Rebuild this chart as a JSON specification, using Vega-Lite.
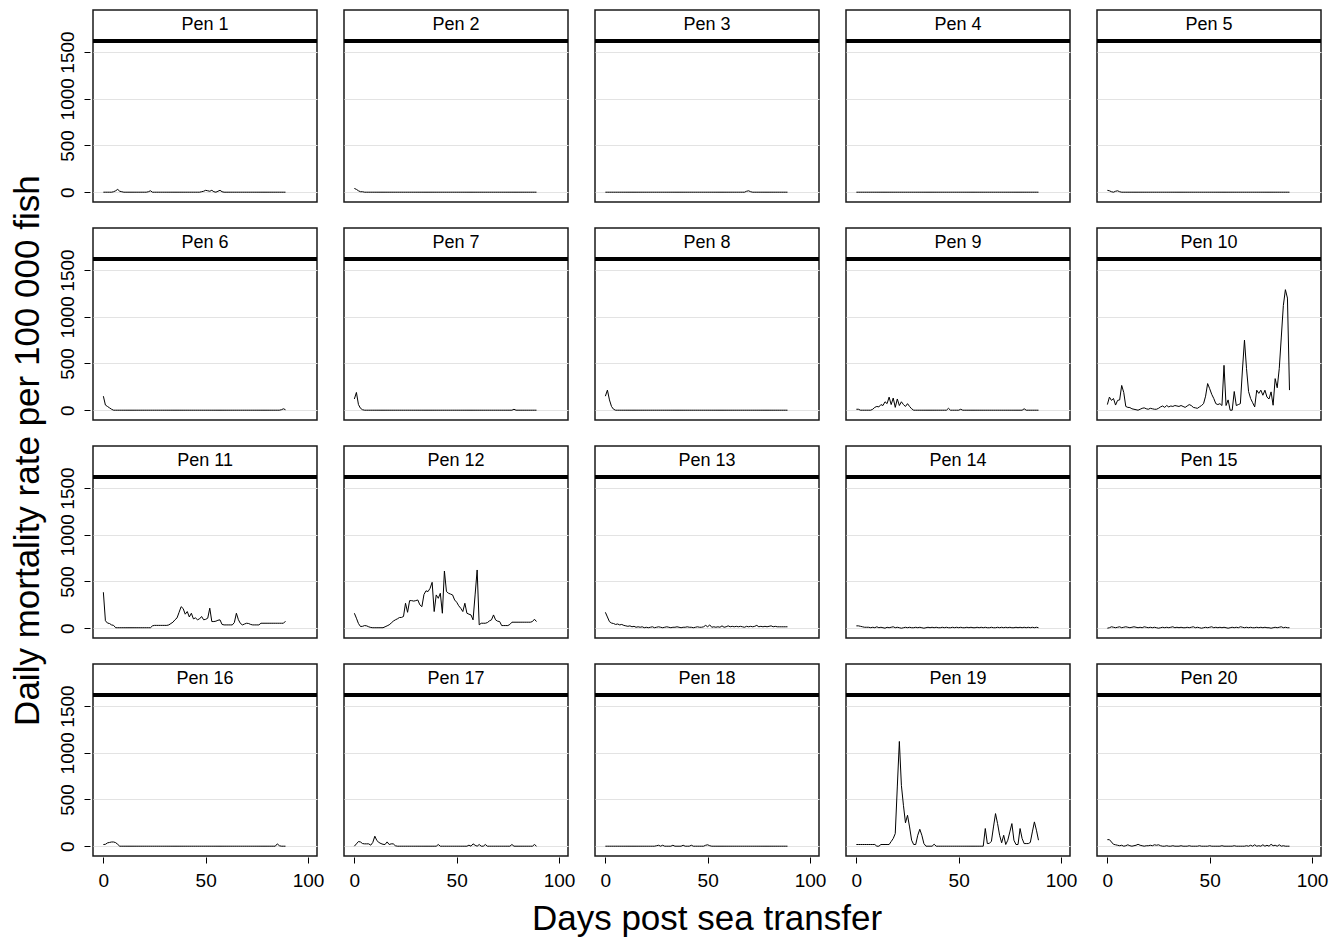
{
"$schema": "https://vega.github.io/schema/vega-lite/v6.json",
"padding": {"left": 10, "top": 8, "right": 5, "bottom": 0},
"background": "white",
"title": {"text": "Daily mortality rate per 100 000 fish", "orient": "left", "anchor": "middle", "font": "Liberation Sans", "fontSize": 35, "fontWeight": "normal", "color": "black", "offset": 12, "dx": 22},
"data": {"values": [
{"p":"Pen 1","d":0,"r":0},{"p":"Pen 1","d":1,"r":0},{"p":"Pen 1","d":2,"r":0},{"p":"Pen 1","d":3,"r":0},{"p":"Pen 1","d":4,"r":0},{"p":"Pen 1","d":5,"r":5},{"p":"Pen 1","d":6,"r":15},{"p":"Pen 1","d":7,"r":30},{"p":"Pen 1","d":8,"r":10},{"p":"Pen 1","d":9,"r":5},{"p":"Pen 1","d":10,"r":0},{"p":"Pen 1","d":11,"r":0},{"p":"Pen 1","d":12,"r":0},{"p":"Pen 1","d":13,"r":0},{"p":"Pen 1","d":14,"r":0},{"p":"Pen 1","d":15,"r":0},{"p":"Pen 1","d":16,"r":0},{"p":"Pen 1","d":17,"r":0},{"p":"Pen 1","d":18,"r":0},{"p":"Pen 1","d":19,"r":0},{"p":"Pen 1","d":20,"r":0},{"p":"Pen 1","d":21,"r":0},{"p":"Pen 1","d":22,"r":5},{"p":"Pen 1","d":23,"r":15},{"p":"Pen 1","d":24,"r":0},{"p":"Pen 1","d":25,"r":0},{"p":"Pen 1","d":26,"r":0},{"p":"Pen 1","d":27,"r":0},{"p":"Pen 1","d":28,"r":0},{"p":"Pen 1","d":29,"r":0},{"p":"Pen 1","d":30,"r":0},{"p":"Pen 1","d":31,"r":0},{"p":"Pen 1","d":32,"r":0},{"p":"Pen 1","d":33,"r":0},{"p":"Pen 1","d":34,"r":0},{"p":"Pen 1","d":35,"r":0},{"p":"Pen 1","d":36,"r":0},{"p":"Pen 1","d":37,"r":0},{"p":"Pen 1","d":38,"r":0},{"p":"Pen 1","d":39,"r":0},{"p":"Pen 1","d":40,"r":0},{"p":"Pen 1","d":41,"r":0},{"p":"Pen 1","d":42,"r":0},{"p":"Pen 1","d":43,"r":0},{"p":"Pen 1","d":44,"r":0},{"p":"Pen 1","d":45,"r":0},{"p":"Pen 1","d":46,"r":0},{"p":"Pen 1","d":47,"r":0},{"p":"Pen 1","d":48,"r":5},{"p":"Pen 1","d":49,"r":10},{"p":"Pen 1","d":50,"r":20},{"p":"Pen 1","d":51,"r":15},{"p":"Pen 1","d":52,"r":10},{"p":"Pen 1","d":53,"r":20},{"p":"Pen 1","d":54,"r":5},{"p":"Pen 1","d":55,"r":0},{"p":"Pen 1","d":56,"r":10},{"p":"Pen 1","d":57,"r":20},{"p":"Pen 1","d":58,"r":5},{"p":"Pen 1","d":59,"r":0},{"p":"Pen 1","d":60,"r":0},{"p":"Pen 1","d":61,"r":0},{"p":"Pen 1","d":62,"r":0},{"p":"Pen 1","d":63,"r":0},{"p":"Pen 1","d":64,"r":0},{"p":"Pen 1","d":65,"r":0},{"p":"Pen 1","d":66,"r":0},{"p":"Pen 1","d":67,"r":0},{"p":"Pen 1","d":68,"r":0},{"p":"Pen 1","d":69,"r":0},{"p":"Pen 1","d":70,"r":0},{"p":"Pen 1","d":71,"r":0},{"p":"Pen 1","d":72,"r":0},{"p":"Pen 1","d":73,"r":0},{"p":"Pen 1","d":74,"r":0},{"p":"Pen 1","d":75,"r":0},{"p":"Pen 1","d":76,"r":0},{"p":"Pen 1","d":77,"r":0},{"p":"Pen 1","d":78,"r":0},{"p":"Pen 1","d":79,"r":0},{"p":"Pen 1","d":80,"r":0},{"p":"Pen 1","d":81,"r":0},{"p":"Pen 1","d":82,"r":0},{"p":"Pen 1","d":83,"r":0},{"p":"Pen 1","d":84,"r":0},{"p":"Pen 1","d":85,"r":0},{"p":"Pen 1","d":86,"r":0},{"p":"Pen 1","d":87,"r":0},{"p":"Pen 1","d":88,"r":0},{"p":"Pen 1","d":89,"r":0},
{"p":"Pen 2","d":0,"r":40},{"p":"Pen 2","d":1,"r":30},{"p":"Pen 2","d":2,"r":15},{"p":"Pen 2","d":3,"r":5},{"p":"Pen 2","d":4,"r":5},{"p":"Pen 2","d":5,"r":0},{"p":"Pen 2","d":6,"r":0},{"p":"Pen 2","d":7,"r":0},{"p":"Pen 2","d":8,"r":0},{"p":"Pen 2","d":9,"r":0},{"p":"Pen 2","d":10,"r":0},{"p":"Pen 2","d":11,"r":0},{"p":"Pen 2","d":12,"r":0},{"p":"Pen 2","d":13,"r":0},{"p":"Pen 2","d":14,"r":0},{"p":"Pen 2","d":15,"r":0},{"p":"Pen 2","d":16,"r":0},{"p":"Pen 2","d":17,"r":0},{"p":"Pen 2","d":18,"r":0},{"p":"Pen 2","d":19,"r":0},{"p":"Pen 2","d":20,"r":0},{"p":"Pen 2","d":21,"r":0},{"p":"Pen 2","d":22,"r":0},{"p":"Pen 2","d":23,"r":0},{"p":"Pen 2","d":24,"r":0},{"p":"Pen 2","d":25,"r":0},{"p":"Pen 2","d":26,"r":0},{"p":"Pen 2","d":27,"r":0},{"p":"Pen 2","d":28,"r":0},{"p":"Pen 2","d":29,"r":0},{"p":"Pen 2","d":30,"r":0},{"p":"Pen 2","d":31,"r":0},{"p":"Pen 2","d":32,"r":0},{"p":"Pen 2","d":33,"r":0},{"p":"Pen 2","d":34,"r":0},{"p":"Pen 2","d":35,"r":0},{"p":"Pen 2","d":36,"r":0},{"p":"Pen 2","d":37,"r":0},{"p":"Pen 2","d":38,"r":0},{"p":"Pen 2","d":39,"r":0},{"p":"Pen 2","d":40,"r":0},{"p":"Pen 2","d":41,"r":0},{"p":"Pen 2","d":42,"r":0},{"p":"Pen 2","d":43,"r":0},{"p":"Pen 2","d":44,"r":0},{"p":"Pen 2","d":45,"r":0},{"p":"Pen 2","d":46,"r":0},{"p":"Pen 2","d":47,"r":0},{"p":"Pen 2","d":48,"r":0},{"p":"Pen 2","d":49,"r":0},{"p":"Pen 2","d":50,"r":0},{"p":"Pen 2","d":51,"r":0},{"p":"Pen 2","d":52,"r":0},{"p":"Pen 2","d":53,"r":0},{"p":"Pen 2","d":54,"r":0},{"p":"Pen 2","d":55,"r":0},{"p":"Pen 2","d":56,"r":0},{"p":"Pen 2","d":57,"r":0},{"p":"Pen 2","d":58,"r":0},{"p":"Pen 2","d":59,"r":0},{"p":"Pen 2","d":60,"r":0},{"p":"Pen 2","d":61,"r":0},{"p":"Pen 2","d":62,"r":0},{"p":"Pen 2","d":63,"r":0},{"p":"Pen 2","d":64,"r":0},{"p":"Pen 2","d":65,"r":0},{"p":"Pen 2","d":66,"r":0},{"p":"Pen 2","d":67,"r":0},{"p":"Pen 2","d":68,"r":0},{"p":"Pen 2","d":69,"r":0},{"p":"Pen 2","d":70,"r":0},{"p":"Pen 2","d":71,"r":0},{"p":"Pen 2","d":72,"r":0},{"p":"Pen 2","d":73,"r":0},{"p":"Pen 2","d":74,"r":0},{"p":"Pen 2","d":75,"r":0},{"p":"Pen 2","d":76,"r":0},{"p":"Pen 2","d":77,"r":0},{"p":"Pen 2","d":78,"r":0},{"p":"Pen 2","d":79,"r":0},{"p":"Pen 2","d":80,"r":0},{"p":"Pen 2","d":81,"r":0},{"p":"Pen 2","d":82,"r":0},{"p":"Pen 2","d":83,"r":0},{"p":"Pen 2","d":84,"r":0},{"p":"Pen 2","d":85,"r":0},{"p":"Pen 2","d":86,"r":0},{"p":"Pen 2","d":87,"r":0},{"p":"Pen 2","d":88,"r":0},{"p":"Pen 2","d":89,"r":0},
{"p":"Pen 3","d":0,"r":0},{"p":"Pen 3","d":1,"r":0},{"p":"Pen 3","d":2,"r":0},{"p":"Pen 3","d":3,"r":0},{"p":"Pen 3","d":4,"r":0},{"p":"Pen 3","d":5,"r":0},{"p":"Pen 3","d":6,"r":0},{"p":"Pen 3","d":7,"r":0},{"p":"Pen 3","d":8,"r":0},{"p":"Pen 3","d":9,"r":0},{"p":"Pen 3","d":10,"r":0},{"p":"Pen 3","d":11,"r":0},{"p":"Pen 3","d":12,"r":0},{"p":"Pen 3","d":13,"r":0},{"p":"Pen 3","d":14,"r":0},{"p":"Pen 3","d":15,"r":0},{"p":"Pen 3","d":16,"r":0},{"p":"Pen 3","d":17,"r":0},{"p":"Pen 3","d":18,"r":0},{"p":"Pen 3","d":19,"r":0},{"p":"Pen 3","d":20,"r":0},{"p":"Pen 3","d":21,"r":0},{"p":"Pen 3","d":22,"r":0},{"p":"Pen 3","d":23,"r":0},{"p":"Pen 3","d":24,"r":0},{"p":"Pen 3","d":25,"r":0},{"p":"Pen 3","d":26,"r":0},{"p":"Pen 3","d":27,"r":0},{"p":"Pen 3","d":28,"r":0},{"p":"Pen 3","d":29,"r":0},{"p":"Pen 3","d":30,"r":0},{"p":"Pen 3","d":31,"r":0},{"p":"Pen 3","d":32,"r":0},{"p":"Pen 3","d":33,"r":0},{"p":"Pen 3","d":34,"r":0},{"p":"Pen 3","d":35,"r":0},{"p":"Pen 3","d":36,"r":0},{"p":"Pen 3","d":37,"r":0},{"p":"Pen 3","d":38,"r":0},{"p":"Pen 3","d":39,"r":0},{"p":"Pen 3","d":40,"r":0},{"p":"Pen 3","d":41,"r":0},{"p":"Pen 3","d":42,"r":0},{"p":"Pen 3","d":43,"r":0},{"p":"Pen 3","d":44,"r":0},{"p":"Pen 3","d":45,"r":0},{"p":"Pen 3","d":46,"r":0},{"p":"Pen 3","d":47,"r":0},{"p":"Pen 3","d":48,"r":0},{"p":"Pen 3","d":49,"r":0},{"p":"Pen 3","d":50,"r":0},{"p":"Pen 3","d":51,"r":0},{"p":"Pen 3","d":52,"r":0},{"p":"Pen 3","d":53,"r":0},{"p":"Pen 3","d":54,"r":0},{"p":"Pen 3","d":55,"r":0},{"p":"Pen 3","d":56,"r":0},{"p":"Pen 3","d":57,"r":0},{"p":"Pen 3","d":58,"r":0},{"p":"Pen 3","d":59,"r":0},{"p":"Pen 3","d":60,"r":0},{"p":"Pen 3","d":61,"r":0},{"p":"Pen 3","d":62,"r":0},{"p":"Pen 3","d":63,"r":0},{"p":"Pen 3","d":64,"r":0},{"p":"Pen 3","d":65,"r":0},{"p":"Pen 3","d":66,"r":0},{"p":"Pen 3","d":67,"r":0},{"p":"Pen 3","d":68,"r":0},{"p":"Pen 3","d":69,"r":10},{"p":"Pen 3","d":70,"r":15},{"p":"Pen 3","d":71,"r":5},{"p":"Pen 3","d":72,"r":0},{"p":"Pen 3","d":73,"r":0},{"p":"Pen 3","d":74,"r":0},{"p":"Pen 3","d":75,"r":0},{"p":"Pen 3","d":76,"r":0},{"p":"Pen 3","d":77,"r":0},{"p":"Pen 3","d":78,"r":0},{"p":"Pen 3","d":79,"r":0},{"p":"Pen 3","d":80,"r":0},{"p":"Pen 3","d":81,"r":0},{"p":"Pen 3","d":82,"r":0},{"p":"Pen 3","d":83,"r":0},{"p":"Pen 3","d":84,"r":0},{"p":"Pen 3","d":85,"r":0},{"p":"Pen 3","d":86,"r":0},{"p":"Pen 3","d":87,"r":0},{"p":"Pen 3","d":88,"r":0},{"p":"Pen 3","d":89,"r":0},
{"p":"Pen 4","d":0,"r":0},{"p":"Pen 4","d":1,"r":0},{"p":"Pen 4","d":2,"r":0},{"p":"Pen 4","d":3,"r":0},{"p":"Pen 4","d":4,"r":0},{"p":"Pen 4","d":5,"r":0},{"p":"Pen 4","d":6,"r":0},{"p":"Pen 4","d":7,"r":0},{"p":"Pen 4","d":8,"r":0},{"p":"Pen 4","d":9,"r":0},{"p":"Pen 4","d":10,"r":0},{"p":"Pen 4","d":11,"r":0},{"p":"Pen 4","d":12,"r":0},{"p":"Pen 4","d":13,"r":0},{"p":"Pen 4","d":14,"r":0},{"p":"Pen 4","d":15,"r":0},{"p":"Pen 4","d":16,"r":0},{"p":"Pen 4","d":17,"r":0},{"p":"Pen 4","d":18,"r":0},{"p":"Pen 4","d":19,"r":0},{"p":"Pen 4","d":20,"r":0},{"p":"Pen 4","d":21,"r":0},{"p":"Pen 4","d":22,"r":0},{"p":"Pen 4","d":23,"r":0},{"p":"Pen 4","d":24,"r":0},{"p":"Pen 4","d":25,"r":0},{"p":"Pen 4","d":26,"r":0},{"p":"Pen 4","d":27,"r":0},{"p":"Pen 4","d":28,"r":0},{"p":"Pen 4","d":29,"r":0},{"p":"Pen 4","d":30,"r":0},{"p":"Pen 4","d":31,"r":0},{"p":"Pen 4","d":32,"r":0},{"p":"Pen 4","d":33,"r":0},{"p":"Pen 4","d":34,"r":0},{"p":"Pen 4","d":35,"r":0},{"p":"Pen 4","d":36,"r":0},{"p":"Pen 4","d":37,"r":0},{"p":"Pen 4","d":38,"r":0},{"p":"Pen 4","d":39,"r":0},{"p":"Pen 4","d":40,"r":0},{"p":"Pen 4","d":41,"r":0},{"p":"Pen 4","d":42,"r":0},{"p":"Pen 4","d":43,"r":0},{"p":"Pen 4","d":44,"r":0},{"p":"Pen 4","d":45,"r":0},{"p":"Pen 4","d":46,"r":0},{"p":"Pen 4","d":47,"r":0},{"p":"Pen 4","d":48,"r":0},{"p":"Pen 4","d":49,"r":0},{"p":"Pen 4","d":50,"r":0},{"p":"Pen 4","d":51,"r":0},{"p":"Pen 4","d":52,"r":0},{"p":"Pen 4","d":53,"r":0},{"p":"Pen 4","d":54,"r":0},{"p":"Pen 4","d":55,"r":0},{"p":"Pen 4","d":56,"r":0},{"p":"Pen 4","d":57,"r":0},{"p":"Pen 4","d":58,"r":0},{"p":"Pen 4","d":59,"r":0},{"p":"Pen 4","d":60,"r":0},{"p":"Pen 4","d":61,"r":0},{"p":"Pen 4","d":62,"r":0},{"p":"Pen 4","d":63,"r":0},{"p":"Pen 4","d":64,"r":0},{"p":"Pen 4","d":65,"r":0},{"p":"Pen 4","d":66,"r":0},{"p":"Pen 4","d":67,"r":0},{"p":"Pen 4","d":68,"r":0},{"p":"Pen 4","d":69,"r":0},{"p":"Pen 4","d":70,"r":0},{"p":"Pen 4","d":71,"r":0},{"p":"Pen 4","d":72,"r":0},{"p":"Pen 4","d":73,"r":0},{"p":"Pen 4","d":74,"r":0},{"p":"Pen 4","d":75,"r":0},{"p":"Pen 4","d":76,"r":0},{"p":"Pen 4","d":77,"r":0},{"p":"Pen 4","d":78,"r":0},{"p":"Pen 4","d":79,"r":0},{"p":"Pen 4","d":80,"r":0},{"p":"Pen 4","d":81,"r":0},{"p":"Pen 4","d":82,"r":0},{"p":"Pen 4","d":83,"r":0},{"p":"Pen 4","d":84,"r":0},{"p":"Pen 4","d":85,"r":0},{"p":"Pen 4","d":86,"r":0},{"p":"Pen 4","d":87,"r":0},{"p":"Pen 4","d":88,"r":0},{"p":"Pen 4","d":89,"r":0},
{"p":"Pen 5","d":0,"r":20},{"p":"Pen 5","d":1,"r":15},{"p":"Pen 5","d":2,"r":5},{"p":"Pen 5","d":3,"r":0},{"p":"Pen 5","d":4,"r":10},{"p":"Pen 5","d":5,"r":15},{"p":"Pen 5","d":6,"r":5},{"p":"Pen 5","d":7,"r":0},{"p":"Pen 5","d":8,"r":0},{"p":"Pen 5","d":9,"r":0},{"p":"Pen 5","d":10,"r":0},{"p":"Pen 5","d":11,"r":0},{"p":"Pen 5","d":12,"r":0},{"p":"Pen 5","d":13,"r":0},{"p":"Pen 5","d":14,"r":0},{"p":"Pen 5","d":15,"r":0},{"p":"Pen 5","d":16,"r":0},{"p":"Pen 5","d":17,"r":0},{"p":"Pen 5","d":18,"r":0},{"p":"Pen 5","d":19,"r":0},{"p":"Pen 5","d":20,"r":0},{"p":"Pen 5","d":21,"r":0},{"p":"Pen 5","d":22,"r":0},{"p":"Pen 5","d":23,"r":0},{"p":"Pen 5","d":24,"r":0},{"p":"Pen 5","d":25,"r":0},{"p":"Pen 5","d":26,"r":0},{"p":"Pen 5","d":27,"r":0},{"p":"Pen 5","d":28,"r":0},{"p":"Pen 5","d":29,"r":0},{"p":"Pen 5","d":30,"r":0},{"p":"Pen 5","d":31,"r":0},{"p":"Pen 5","d":32,"r":0},{"p":"Pen 5","d":33,"r":0},{"p":"Pen 5","d":34,"r":0},{"p":"Pen 5","d":35,"r":0},{"p":"Pen 5","d":36,"r":0},{"p":"Pen 5","d":37,"r":0},{"p":"Pen 5","d":38,"r":0},{"p":"Pen 5","d":39,"r":0},{"p":"Pen 5","d":40,"r":0},{"p":"Pen 5","d":41,"r":0},{"p":"Pen 5","d":42,"r":0},{"p":"Pen 5","d":43,"r":0},{"p":"Pen 5","d":44,"r":0},{"p":"Pen 5","d":45,"r":0},{"p":"Pen 5","d":46,"r":0},{"p":"Pen 5","d":47,"r":0},{"p":"Pen 5","d":48,"r":0},{"p":"Pen 5","d":49,"r":0},{"p":"Pen 5","d":50,"r":0},{"p":"Pen 5","d":51,"r":0},{"p":"Pen 5","d":52,"r":0},{"p":"Pen 5","d":53,"r":0},{"p":"Pen 5","d":54,"r":0},{"p":"Pen 5","d":55,"r":0},{"p":"Pen 5","d":56,"r":0},{"p":"Pen 5","d":57,"r":0},{"p":"Pen 5","d":58,"r":0},{"p":"Pen 5","d":59,"r":0},{"p":"Pen 5","d":60,"r":0},{"p":"Pen 5","d":61,"r":0},{"p":"Pen 5","d":62,"r":0},{"p":"Pen 5","d":63,"r":0},{"p":"Pen 5","d":64,"r":0},{"p":"Pen 5","d":65,"r":0},{"p":"Pen 5","d":66,"r":0},{"p":"Pen 5","d":67,"r":0},{"p":"Pen 5","d":68,"r":0},{"p":"Pen 5","d":69,"r":0},{"p":"Pen 5","d":70,"r":0},{"p":"Pen 5","d":71,"r":0},{"p":"Pen 5","d":72,"r":0},{"p":"Pen 5","d":73,"r":0},{"p":"Pen 5","d":74,"r":0},{"p":"Pen 5","d":75,"r":0},{"p":"Pen 5","d":76,"r":0},{"p":"Pen 5","d":77,"r":0},{"p":"Pen 5","d":78,"r":0},{"p":"Pen 5","d":79,"r":0},{"p":"Pen 5","d":80,"r":0},{"p":"Pen 5","d":81,"r":0},{"p":"Pen 5","d":82,"r":0},{"p":"Pen 5","d":83,"r":0},{"p":"Pen 5","d":84,"r":0},{"p":"Pen 5","d":85,"r":0},{"p":"Pen 5","d":86,"r":0},{"p":"Pen 5","d":87,"r":0},{"p":"Pen 5","d":88,"r":0},{"p":"Pen 5","d":89,"r":0},
{"p":"Pen 6","d":0,"r":150},{"p":"Pen 6","d":1,"r":55},{"p":"Pen 6","d":2,"r":40},{"p":"Pen 6","d":3,"r":25},{"p":"Pen 6","d":4,"r":10},{"p":"Pen 6","d":5,"r":0},{"p":"Pen 6","d":6,"r":0},{"p":"Pen 6","d":7,"r":0},{"p":"Pen 6","d":8,"r":0},{"p":"Pen 6","d":9,"r":0},{"p":"Pen 6","d":10,"r":0},{"p":"Pen 6","d":11,"r":0},{"p":"Pen 6","d":12,"r":0},{"p":"Pen 6","d":13,"r":0},{"p":"Pen 6","d":14,"r":0},{"p":"Pen 6","d":15,"r":0},{"p":"Pen 6","d":16,"r":0},{"p":"Pen 6","d":17,"r":0},{"p":"Pen 6","d":18,"r":0},{"p":"Pen 6","d":19,"r":0},{"p":"Pen 6","d":20,"r":0},{"p":"Pen 6","d":21,"r":0},{"p":"Pen 6","d":22,"r":0},{"p":"Pen 6","d":23,"r":0},{"p":"Pen 6","d":24,"r":0},{"p":"Pen 6","d":25,"r":0},{"p":"Pen 6","d":26,"r":0},{"p":"Pen 6","d":27,"r":0},{"p":"Pen 6","d":28,"r":0},{"p":"Pen 6","d":29,"r":0},{"p":"Pen 6","d":30,"r":0},{"p":"Pen 6","d":31,"r":0},{"p":"Pen 6","d":32,"r":0},{"p":"Pen 6","d":33,"r":0},{"p":"Pen 6","d":34,"r":0},{"p":"Pen 6","d":35,"r":0},{"p":"Pen 6","d":36,"r":0},{"p":"Pen 6","d":37,"r":0},{"p":"Pen 6","d":38,"r":0},{"p":"Pen 6","d":39,"r":0},{"p":"Pen 6","d":40,"r":0},{"p":"Pen 6","d":41,"r":0},{"p":"Pen 6","d":42,"r":0},{"p":"Pen 6","d":43,"r":0},{"p":"Pen 6","d":44,"r":0},{"p":"Pen 6","d":45,"r":0},{"p":"Pen 6","d":46,"r":0},{"p":"Pen 6","d":47,"r":0},{"p":"Pen 6","d":48,"r":0},{"p":"Pen 6","d":49,"r":0},{"p":"Pen 6","d":50,"r":0},{"p":"Pen 6","d":51,"r":0},{"p":"Pen 6","d":52,"r":0},{"p":"Pen 6","d":53,"r":0},{"p":"Pen 6","d":54,"r":0},{"p":"Pen 6","d":55,"r":0},{"p":"Pen 6","d":56,"r":0},{"p":"Pen 6","d":57,"r":0},{"p":"Pen 6","d":58,"r":0},{"p":"Pen 6","d":59,"r":0},{"p":"Pen 6","d":60,"r":0},{"p":"Pen 6","d":61,"r":0},{"p":"Pen 6","d":62,"r":0},{"p":"Pen 6","d":63,"r":0},{"p":"Pen 6","d":64,"r":0},{"p":"Pen 6","d":65,"r":0},{"p":"Pen 6","d":66,"r":0},{"p":"Pen 6","d":67,"r":0},{"p":"Pen 6","d":68,"r":0},{"p":"Pen 6","d":69,"r":0},{"p":"Pen 6","d":70,"r":0},{"p":"Pen 6","d":71,"r":0},{"p":"Pen 6","d":72,"r":0},{"p":"Pen 6","d":73,"r":0},{"p":"Pen 6","d":74,"r":0},{"p":"Pen 6","d":75,"r":0},{"p":"Pen 6","d":76,"r":0},{"p":"Pen 6","d":77,"r":0},{"p":"Pen 6","d":78,"r":0},{"p":"Pen 6","d":79,"r":0},{"p":"Pen 6","d":80,"r":0},{"p":"Pen 6","d":81,"r":0},{"p":"Pen 6","d":82,"r":0},{"p":"Pen 6","d":83,"r":0},{"p":"Pen 6","d":84,"r":0},{"p":"Pen 6","d":85,"r":0},{"p":"Pen 6","d":86,"r":0},{"p":"Pen 6","d":87,"r":5},{"p":"Pen 6","d":88,"r":15},{"p":"Pen 6","d":89,"r":5},
{"p":"Pen 7","d":0,"r":120},{"p":"Pen 7","d":1,"r":190},{"p":"Pen 7","d":2,"r":60},{"p":"Pen 7","d":3,"r":20},{"p":"Pen 7","d":4,"r":5},{"p":"Pen 7","d":5,"r":0},{"p":"Pen 7","d":6,"r":0},{"p":"Pen 7","d":7,"r":0},{"p":"Pen 7","d":8,"r":0},{"p":"Pen 7","d":9,"r":0},{"p":"Pen 7","d":10,"r":0},{"p":"Pen 7","d":11,"r":0},{"p":"Pen 7","d":12,"r":0},{"p":"Pen 7","d":13,"r":0},{"p":"Pen 7","d":14,"r":0},{"p":"Pen 7","d":15,"r":0},{"p":"Pen 7","d":16,"r":0},{"p":"Pen 7","d":17,"r":0},{"p":"Pen 7","d":18,"r":0},{"p":"Pen 7","d":19,"r":0},{"p":"Pen 7","d":20,"r":0},{"p":"Pen 7","d":21,"r":0},{"p":"Pen 7","d":22,"r":0},{"p":"Pen 7","d":23,"r":0},{"p":"Pen 7","d":24,"r":0},{"p":"Pen 7","d":25,"r":0},{"p":"Pen 7","d":26,"r":0},{"p":"Pen 7","d":27,"r":0},{"p":"Pen 7","d":28,"r":0},{"p":"Pen 7","d":29,"r":0},{"p":"Pen 7","d":30,"r":0},{"p":"Pen 7","d":31,"r":0},{"p":"Pen 7","d":32,"r":0},{"p":"Pen 7","d":33,"r":0},{"p":"Pen 7","d":34,"r":0},{"p":"Pen 7","d":35,"r":0},{"p":"Pen 7","d":36,"r":0},{"p":"Pen 7","d":37,"r":0},{"p":"Pen 7","d":38,"r":0},{"p":"Pen 7","d":39,"r":0},{"p":"Pen 7","d":40,"r":0},{"p":"Pen 7","d":41,"r":0},{"p":"Pen 7","d":42,"r":0},{"p":"Pen 7","d":43,"r":0},{"p":"Pen 7","d":44,"r":0},{"p":"Pen 7","d":45,"r":0},{"p":"Pen 7","d":46,"r":0},{"p":"Pen 7","d":47,"r":0},{"p":"Pen 7","d":48,"r":0},{"p":"Pen 7","d":49,"r":0},{"p":"Pen 7","d":50,"r":0},{"p":"Pen 7","d":51,"r":0},{"p":"Pen 7","d":52,"r":0},{"p":"Pen 7","d":53,"r":0},{"p":"Pen 7","d":54,"r":0},{"p":"Pen 7","d":55,"r":0},{"p":"Pen 7","d":56,"r":0},{"p":"Pen 7","d":57,"r":0},{"p":"Pen 7","d":58,"r":0},{"p":"Pen 7","d":59,"r":0},{"p":"Pen 7","d":60,"r":0},{"p":"Pen 7","d":61,"r":0},{"p":"Pen 7","d":62,"r":0},{"p":"Pen 7","d":63,"r":0},{"p":"Pen 7","d":64,"r":0},{"p":"Pen 7","d":65,"r":0},{"p":"Pen 7","d":66,"r":0},{"p":"Pen 7","d":67,"r":0},{"p":"Pen 7","d":68,"r":0},{"p":"Pen 7","d":69,"r":0},{"p":"Pen 7","d":70,"r":0},{"p":"Pen 7","d":71,"r":0},{"p":"Pen 7","d":72,"r":0},{"p":"Pen 7","d":73,"r":0},{"p":"Pen 7","d":74,"r":0},{"p":"Pen 7","d":75,"r":0},{"p":"Pen 7","d":76,"r":0},{"p":"Pen 7","d":77,"r":0},{"p":"Pen 7","d":78,"r":10},{"p":"Pen 7","d":79,"r":0},{"p":"Pen 7","d":80,"r":0},{"p":"Pen 7","d":81,"r":0},{"p":"Pen 7","d":82,"r":0},{"p":"Pen 7","d":83,"r":0},{"p":"Pen 7","d":84,"r":0},{"p":"Pen 7","d":85,"r":0},{"p":"Pen 7","d":86,"r":0},{"p":"Pen 7","d":87,"r":0},{"p":"Pen 7","d":88,"r":0},{"p":"Pen 7","d":89,"r":0},
{"p":"Pen 8","d":0,"r":150},{"p":"Pen 8","d":1,"r":215},{"p":"Pen 8","d":2,"r":110},{"p":"Pen 8","d":3,"r":40},{"p":"Pen 8","d":4,"r":10},{"p":"Pen 8","d":5,"r":0},{"p":"Pen 8","d":6,"r":0},{"p":"Pen 8","d":7,"r":0},{"p":"Pen 8","d":8,"r":0},{"p":"Pen 8","d":9,"r":0},{"p":"Pen 8","d":10,"r":0},{"p":"Pen 8","d":11,"r":0},{"p":"Pen 8","d":12,"r":0},{"p":"Pen 8","d":13,"r":0},{"p":"Pen 8","d":14,"r":0},{"p":"Pen 8","d":15,"r":0},{"p":"Pen 8","d":16,"r":0},{"p":"Pen 8","d":17,"r":0},{"p":"Pen 8","d":18,"r":0},{"p":"Pen 8","d":19,"r":0},{"p":"Pen 8","d":20,"r":0},{"p":"Pen 8","d":21,"r":0},{"p":"Pen 8","d":22,"r":0},{"p":"Pen 8","d":23,"r":0},{"p":"Pen 8","d":24,"r":0},{"p":"Pen 8","d":25,"r":0},{"p":"Pen 8","d":26,"r":0},{"p":"Pen 8","d":27,"r":0},{"p":"Pen 8","d":28,"r":0},{"p":"Pen 8","d":29,"r":0},{"p":"Pen 8","d":30,"r":0},{"p":"Pen 8","d":31,"r":0},{"p":"Pen 8","d":32,"r":0},{"p":"Pen 8","d":33,"r":0},{"p":"Pen 8","d":34,"r":0},{"p":"Pen 8","d":35,"r":0},{"p":"Pen 8","d":36,"r":0},{"p":"Pen 8","d":37,"r":0},{"p":"Pen 8","d":38,"r":0},{"p":"Pen 8","d":39,"r":0},{"p":"Pen 8","d":40,"r":0},{"p":"Pen 8","d":41,"r":0},{"p":"Pen 8","d":42,"r":0},{"p":"Pen 8","d":43,"r":0},{"p":"Pen 8","d":44,"r":0},{"p":"Pen 8","d":45,"r":0},{"p":"Pen 8","d":46,"r":0},{"p":"Pen 8","d":47,"r":0},{"p":"Pen 8","d":48,"r":0},{"p":"Pen 8","d":49,"r":0},{"p":"Pen 8","d":50,"r":0},{"p":"Pen 8","d":51,"r":0},{"p":"Pen 8","d":52,"r":0},{"p":"Pen 8","d":53,"r":0},{"p":"Pen 8","d":54,"r":0},{"p":"Pen 8","d":55,"r":0},{"p":"Pen 8","d":56,"r":0},{"p":"Pen 8","d":57,"r":0},{"p":"Pen 8","d":58,"r":0},{"p":"Pen 8","d":59,"r":0},{"p":"Pen 8","d":60,"r":0},{"p":"Pen 8","d":61,"r":0},{"p":"Pen 8","d":62,"r":0},{"p":"Pen 8","d":63,"r":0},{"p":"Pen 8","d":64,"r":0},{"p":"Pen 8","d":65,"r":0},{"p":"Pen 8","d":66,"r":0},{"p":"Pen 8","d":67,"r":0},{"p":"Pen 8","d":68,"r":0},{"p":"Pen 8","d":69,"r":0},{"p":"Pen 8","d":70,"r":0},{"p":"Pen 8","d":71,"r":0},{"p":"Pen 8","d":72,"r":0},{"p":"Pen 8","d":73,"r":0},{"p":"Pen 8","d":74,"r":0},{"p":"Pen 8","d":75,"r":0},{"p":"Pen 8","d":76,"r":0},{"p":"Pen 8","d":77,"r":0},{"p":"Pen 8","d":78,"r":0},{"p":"Pen 8","d":79,"r":0},{"p":"Pen 8","d":80,"r":0},{"p":"Pen 8","d":81,"r":0},{"p":"Pen 8","d":82,"r":0},{"p":"Pen 8","d":83,"r":0},{"p":"Pen 8","d":84,"r":0},{"p":"Pen 8","d":85,"r":0},{"p":"Pen 8","d":86,"r":0},{"p":"Pen 8","d":87,"r":0},{"p":"Pen 8","d":88,"r":0},{"p":"Pen 8","d":89,"r":0},
{"p":"Pen 9","d":0,"r":10},{"p":"Pen 9","d":1,"r":10},{"p":"Pen 9","d":2,"r":0},{"p":"Pen 9","d":3,"r":0},{"p":"Pen 9","d":4,"r":0},{"p":"Pen 9","d":5,"r":0},{"p":"Pen 9","d":6,"r":0},{"p":"Pen 9","d":7,"r":0},{"p":"Pen 9","d":8,"r":10},{"p":"Pen 9","d":9,"r":30},{"p":"Pen 9","d":10,"r":40},{"p":"Pen 9","d":11,"r":35},{"p":"Pen 9","d":12,"r":60},{"p":"Pen 9","d":13,"r":50},{"p":"Pen 9","d":14,"r":90},{"p":"Pen 9","d":15,"r":70},{"p":"Pen 9","d":16,"r":140},{"p":"Pen 9","d":17,"r":60},{"p":"Pen 9","d":18,"r":130},{"p":"Pen 9","d":19,"r":30},{"p":"Pen 9","d":20,"r":120},{"p":"Pen 9","d":21,"r":50},{"p":"Pen 9","d":22,"r":90},{"p":"Pen 9","d":23,"r":60},{"p":"Pen 9","d":24,"r":40},{"p":"Pen 9","d":25,"r":70},{"p":"Pen 9","d":26,"r":40},{"p":"Pen 9","d":27,"r":15},{"p":"Pen 9","d":28,"r":0},{"p":"Pen 9","d":29,"r":0},{"p":"Pen 9","d":30,"r":0},{"p":"Pen 9","d":31,"r":0},{"p":"Pen 9","d":32,"r":0},{"p":"Pen 9","d":33,"r":0},{"p":"Pen 9","d":34,"r":0},{"p":"Pen 9","d":35,"r":0},{"p":"Pen 9","d":36,"r":0},{"p":"Pen 9","d":37,"r":0},{"p":"Pen 9","d":38,"r":0},{"p":"Pen 9","d":39,"r":0},{"p":"Pen 9","d":40,"r":0},{"p":"Pen 9","d":41,"r":0},{"p":"Pen 9","d":42,"r":0},{"p":"Pen 9","d":43,"r":0},{"p":"Pen 9","d":44,"r":0},{"p":"Pen 9","d":45,"r":20},{"p":"Pen 9","d":46,"r":0},{"p":"Pen 9","d":47,"r":0},{"p":"Pen 9","d":48,"r":0},{"p":"Pen 9","d":49,"r":0},{"p":"Pen 9","d":50,"r":0},{"p":"Pen 9","d":51,"r":10},{"p":"Pen 9","d":52,"r":0},{"p":"Pen 9","d":53,"r":0},{"p":"Pen 9","d":54,"r":0},{"p":"Pen 9","d":55,"r":0},{"p":"Pen 9","d":56,"r":0},{"p":"Pen 9","d":57,"r":0},{"p":"Pen 9","d":58,"r":0},{"p":"Pen 9","d":59,"r":0},{"p":"Pen 9","d":60,"r":0},{"p":"Pen 9","d":61,"r":0},{"p":"Pen 9","d":62,"r":0},{"p":"Pen 9","d":63,"r":0},{"p":"Pen 9","d":64,"r":0},{"p":"Pen 9","d":65,"r":0},{"p":"Pen 9","d":66,"r":0},{"p":"Pen 9","d":67,"r":0},{"p":"Pen 9","d":68,"r":0},{"p":"Pen 9","d":69,"r":0},{"p":"Pen 9","d":70,"r":0},{"p":"Pen 9","d":71,"r":0},{"p":"Pen 9","d":72,"r":0},{"p":"Pen 9","d":73,"r":0},{"p":"Pen 9","d":74,"r":0},{"p":"Pen 9","d":75,"r":0},{"p":"Pen 9","d":76,"r":0},{"p":"Pen 9","d":77,"r":0},{"p":"Pen 9","d":78,"r":0},{"p":"Pen 9","d":79,"r":0},{"p":"Pen 9","d":80,"r":0},{"p":"Pen 9","d":81,"r":0},{"p":"Pen 9","d":82,"r":15},{"p":"Pen 9","d":83,"r":0},{"p":"Pen 9","d":84,"r":0},{"p":"Pen 9","d":85,"r":0},{"p":"Pen 9","d":86,"r":0},{"p":"Pen 9","d":87,"r":0},{"p":"Pen 9","d":88,"r":0},{"p":"Pen 9","d":89,"r":0},
{"p":"Pen 10","d":0,"r":60},{"p":"Pen 10","d":1,"r":140},{"p":"Pen 10","d":2,"r":105},{"p":"Pen 10","d":3,"r":125},{"p":"Pen 10","d":4,"r":55},{"p":"Pen 10","d":5,"r":105},{"p":"Pen 10","d":6,"r":110},{"p":"Pen 10","d":7,"r":265},{"p":"Pen 10","d":8,"r":190},{"p":"Pen 10","d":9,"r":40},{"p":"Pen 10","d":10,"r":30},{"p":"Pen 10","d":11,"r":28},{"p":"Pen 10","d":12,"r":15},{"p":"Pen 10","d":13,"r":10},{"p":"Pen 10","d":14,"r":5},{"p":"Pen 10","d":15,"r":0},{"p":"Pen 10","d":16,"r":10},{"p":"Pen 10","d":17,"r":20},{"p":"Pen 10","d":18,"r":25},{"p":"Pen 10","d":19,"r":15},{"p":"Pen 10","d":20,"r":10},{"p":"Pen 10","d":21,"r":20},{"p":"Pen 10","d":22,"r":15},{"p":"Pen 10","d":23,"r":10},{"p":"Pen 10","d":24,"r":10},{"p":"Pen 10","d":25,"r":20},{"p":"Pen 10","d":26,"r":35},{"p":"Pen 10","d":27,"r":45},{"p":"Pen 10","d":28,"r":30},{"p":"Pen 10","d":29,"r":50},{"p":"Pen 10","d":30,"r":35},{"p":"Pen 10","d":31,"r":45},{"p":"Pen 10","d":32,"r":40},{"p":"Pen 10","d":33,"r":50},{"p":"Pen 10","d":34,"r":45},{"p":"Pen 10","d":35,"r":40},{"p":"Pen 10","d":36,"r":50},{"p":"Pen 10","d":37,"r":40},{"p":"Pen 10","d":38,"r":30},{"p":"Pen 10","d":39,"r":45},{"p":"Pen 10","d":40,"r":60},{"p":"Pen 10","d":41,"r":50},{"p":"Pen 10","d":42,"r":30},{"p":"Pen 10","d":43,"r":25},{"p":"Pen 10","d":44,"r":20},{"p":"Pen 10","d":45,"r":35},{"p":"Pen 10","d":46,"r":50},{"p":"Pen 10","d":47,"r":70},{"p":"Pen 10","d":48,"r":150},{"p":"Pen 10","d":49,"r":285},{"p":"Pen 10","d":50,"r":230},{"p":"Pen 10","d":51,"r":170},{"p":"Pen 10","d":52,"r":125},{"p":"Pen 10","d":53,"r":70},{"p":"Pen 10","d":54,"r":60},{"p":"Pen 10","d":55,"r":70},{"p":"Pen 10","d":56,"r":50},{"p":"Pen 10","d":57,"r":480},{"p":"Pen 10","d":58,"r":50},{"p":"Pen 10","d":59,"r":110},{"p":"Pen 10","d":60,"r":0},{"p":"Pen 10","d":61,"r":0},{"p":"Pen 10","d":62,"r":200},{"p":"Pen 10","d":63,"r":50},{"p":"Pen 10","d":64,"r":60},{"p":"Pen 10","d":65,"r":70},{"p":"Pen 10","d":66,"r":430},{"p":"Pen 10","d":67,"r":750},{"p":"Pen 10","d":68,"r":445},{"p":"Pen 10","d":69,"r":200},{"p":"Pen 10","d":70,"r":125},{"p":"Pen 10","d":71,"r":80},{"p":"Pen 10","d":72,"r":35},{"p":"Pen 10","d":73,"r":214},{"p":"Pen 10","d":74,"r":180},{"p":"Pen 10","d":75,"r":214},{"p":"Pen 10","d":76,"r":160},{"p":"Pen 10","d":77,"r":214},{"p":"Pen 10","d":78,"r":140},{"p":"Pen 10","d":79,"r":120},{"p":"Pen 10","d":80,"r":196},{"p":"Pen 10","d":81,"r":53},{"p":"Pen 10","d":82,"r":338},{"p":"Pen 10","d":83,"r":240},{"p":"Pen 10","d":84,"r":445},{"p":"Pen 10","d":85,"r":783},{"p":"Pen 10","d":86,"r":1121},{"p":"Pen 10","d":87,"r":1290},{"p":"Pen 10","d":88,"r":1200},{"p":"Pen 10","d":89,"r":215},
{"p":"Pen 11","d":0,"r":385},{"p":"Pen 11","d":1,"r":80},{"p":"Pen 11","d":2,"r":55},{"p":"Pen 11","d":3,"r":50},{"p":"Pen 11","d":4,"r":35},{"p":"Pen 11","d":5,"r":30},{"p":"Pen 11","d":6,"r":5},{"p":"Pen 11","d":7,"r":5},{"p":"Pen 11","d":8,"r":5},{"p":"Pen 11","d":9,"r":5},{"p":"Pen 11","d":10,"r":5},{"p":"Pen 11","d":11,"r":5},{"p":"Pen 11","d":12,"r":5},{"p":"Pen 11","d":13,"r":5},{"p":"Pen 11","d":14,"r":5},{"p":"Pen 11","d":15,"r":5},{"p":"Pen 11","d":16,"r":5},{"p":"Pen 11","d":17,"r":5},{"p":"Pen 11","d":18,"r":5},{"p":"Pen 11","d":19,"r":5},{"p":"Pen 11","d":20,"r":5},{"p":"Pen 11","d":21,"r":5},{"p":"Pen 11","d":22,"r":5},{"p":"Pen 11","d":23,"r":5},{"p":"Pen 11","d":24,"r":25},{"p":"Pen 11","d":25,"r":30},{"p":"Pen 11","d":26,"r":30},{"p":"Pen 11","d":27,"r":30},{"p":"Pen 11","d":28,"r":30},{"p":"Pen 11","d":29,"r":30},{"p":"Pen 11","d":30,"r":30},{"p":"Pen 11","d":31,"r":30},{"p":"Pen 11","d":32,"r":35},{"p":"Pen 11","d":33,"r":50},{"p":"Pen 11","d":34,"r":64},{"p":"Pen 11","d":35,"r":90},{"p":"Pen 11","d":36,"r":110},{"p":"Pen 11","d":37,"r":170},{"p":"Pen 11","d":38,"r":230},{"p":"Pen 11","d":39,"r":210},{"p":"Pen 11","d":40,"r":150},{"p":"Pen 11","d":41,"r":178},{"p":"Pen 11","d":42,"r":120},{"p":"Pen 11","d":43,"r":160},{"p":"Pen 11","d":44,"r":100},{"p":"Pen 11","d":45,"r":110},{"p":"Pen 11","d":46,"r":90},{"p":"Pen 11","d":47,"r":100},{"p":"Pen 11","d":48,"r":125},{"p":"Pen 11","d":49,"r":90},{"p":"Pen 11","d":50,"r":95},{"p":"Pen 11","d":51,"r":107},{"p":"Pen 11","d":52,"r":214},{"p":"Pen 11","d":53,"r":71},{"p":"Pen 11","d":54,"r":71},{"p":"Pen 11","d":55,"r":75},{"p":"Pen 11","d":56,"r":85},{"p":"Pen 11","d":57,"r":89},{"p":"Pen 11","d":58,"r":40},{"p":"Pen 11","d":59,"r":35},{"p":"Pen 11","d":60,"r":35},{"p":"Pen 11","d":61,"r":35},{"p":"Pen 11","d":62,"r":35},{"p":"Pen 11","d":63,"r":35},{"p":"Pen 11","d":64,"r":60},{"p":"Pen 11","d":65,"r":160},{"p":"Pen 11","d":66,"r":90},{"p":"Pen 11","d":67,"r":50},{"p":"Pen 11","d":68,"r":35},{"p":"Pen 11","d":69,"r":45},{"p":"Pen 11","d":70,"r":53},{"p":"Pen 11","d":71,"r":50},{"p":"Pen 11","d":72,"r":40},{"p":"Pen 11","d":73,"r":35},{"p":"Pen 11","d":74,"r":35},{"p":"Pen 11","d":75,"r":35},{"p":"Pen 11","d":76,"r":35},{"p":"Pen 11","d":77,"r":53},{"p":"Pen 11","d":78,"r":53},{"p":"Pen 11","d":79,"r":53},{"p":"Pen 11","d":80,"r":53},{"p":"Pen 11","d":81,"r":53},{"p":"Pen 11","d":82,"r":53},{"p":"Pen 11","d":83,"r":53},{"p":"Pen 11","d":84,"r":53},{"p":"Pen 11","d":85,"r":53},{"p":"Pen 11","d":86,"r":53},{"p":"Pen 11","d":87,"r":53},{"p":"Pen 11","d":88,"r":53},{"p":"Pen 11","d":89,"r":75},
{"p":"Pen 12","d":0,"r":160},{"p":"Pen 12","d":1,"r":107},{"p":"Pen 12","d":2,"r":50},{"p":"Pen 12","d":3,"r":18},{"p":"Pen 12","d":4,"r":20},{"p":"Pen 12","d":5,"r":28},{"p":"Pen 12","d":6,"r":25},{"p":"Pen 12","d":7,"r":15},{"p":"Pen 12","d":8,"r":8},{"p":"Pen 12","d":9,"r":5},{"p":"Pen 12","d":10,"r":5},{"p":"Pen 12","d":11,"r":5},{"p":"Pen 12","d":12,"r":5},{"p":"Pen 12","d":13,"r":5},{"p":"Pen 12","d":14,"r":5},{"p":"Pen 12","d":15,"r":15},{"p":"Pen 12","d":16,"r":25},{"p":"Pen 12","d":17,"r":36},{"p":"Pen 12","d":18,"r":55},{"p":"Pen 12","d":19,"r":75},{"p":"Pen 12","d":20,"r":89},{"p":"Pen 12","d":21,"r":100},{"p":"Pen 12","d":22,"r":114},{"p":"Pen 12","d":23,"r":115},{"p":"Pen 12","d":24,"r":125},{"p":"Pen 12","d":25,"r":267},{"p":"Pen 12","d":26,"r":170},{"p":"Pen 12","d":27,"r":295},{"p":"Pen 12","d":28,"r":295},{"p":"Pen 12","d":29,"r":290},{"p":"Pen 12","d":30,"r":295},{"p":"Pen 12","d":31,"r":302},{"p":"Pen 12","d":32,"r":250},{"p":"Pen 12","d":33,"r":230},{"p":"Pen 12","d":34,"r":360},{"p":"Pen 12","d":35,"r":400},{"p":"Pen 12","d":36,"r":392},{"p":"Pen 12","d":37,"r":427},{"p":"Pen 12","d":38,"r":491},{"p":"Pen 12","d":39,"r":178},{"p":"Pen 12","d":40,"r":356},{"p":"Pen 12","d":41,"r":320},{"p":"Pen 12","d":42,"r":374},{"p":"Pen 12","d":43,"r":160},{"p":"Pen 12","d":44,"r":612},{"p":"Pen 12","d":45,"r":392},{"p":"Pen 12","d":46,"r":374},{"p":"Pen 12","d":47,"r":365},{"p":"Pen 12","d":48,"r":356},{"p":"Pen 12","d":49,"r":302},{"p":"Pen 12","d":50,"r":278},{"p":"Pen 12","d":51,"r":240},{"p":"Pen 12","d":52,"r":213},{"p":"Pen 12","d":53,"r":178},{"p":"Pen 12","d":54,"r":267},{"p":"Pen 12","d":55,"r":160},{"p":"Pen 12","d":56,"r":150},{"p":"Pen 12","d":57,"r":142},{"p":"Pen 12","d":58,"r":89},{"p":"Pen 12","d":59,"r":356},{"p":"Pen 12","d":60,"r":623},{"p":"Pen 12","d":61,"r":36},{"p":"Pen 12","d":62,"r":53},{"p":"Pen 12","d":63,"r":53},{"p":"Pen 12","d":64,"r":53},{"p":"Pen 12","d":65,"r":60},{"p":"Pen 12","d":66,"r":78},{"p":"Pen 12","d":67,"r":89},{"p":"Pen 12","d":68,"r":142},{"p":"Pen 12","d":69,"r":89},{"p":"Pen 12","d":70,"r":75},{"p":"Pen 12","d":71,"r":71},{"p":"Pen 12","d":72,"r":28},{"p":"Pen 12","d":73,"r":28},{"p":"Pen 12","d":74,"r":28},{"p":"Pen 12","d":75,"r":28},{"p":"Pen 12","d":76,"r":40},{"p":"Pen 12","d":77,"r":64},{"p":"Pen 12","d":78,"r":64},{"p":"Pen 12","d":79,"r":64},{"p":"Pen 12","d":80,"r":64},{"p":"Pen 12","d":81,"r":64},{"p":"Pen 12","d":82,"r":64},{"p":"Pen 12","d":83,"r":64},{"p":"Pen 12","d":84,"r":64},{"p":"Pen 12","d":85,"r":64},{"p":"Pen 12","d":86,"r":64},{"p":"Pen 12","d":87,"r":71},{"p":"Pen 12","d":88,"r":96},{"p":"Pen 12","d":89,"r":71},
{"p":"Pen 13","d":0,"r":170},{"p":"Pen 13","d":1,"r":120},{"p":"Pen 13","d":2,"r":70},{"p":"Pen 13","d":3,"r":55},{"p":"Pen 13","d":4,"r":50},{"p":"Pen 13","d":5,"r":40},{"p":"Pen 13","d":6,"r":45},{"p":"Pen 13","d":7,"r":35},{"p":"Pen 13","d":8,"r":40},{"p":"Pen 13","d":9,"r":30},{"p":"Pen 13","d":10,"r":25},{"p":"Pen 13","d":11,"r":20},{"p":"Pen 13","d":12,"r":25},{"p":"Pen 13","d":13,"r":15},{"p":"Pen 13","d":14,"r":20},{"p":"Pen 13","d":15,"r":10},{"p":"Pen 13","d":16,"r":15},{"p":"Pen 13","d":17,"r":10},{"p":"Pen 13","d":18,"r":15},{"p":"Pen 13","d":19,"r":5},{"p":"Pen 13","d":20,"r":10},{"p":"Pen 13","d":21,"r":5},{"p":"Pen 13","d":22,"r":10},{"p":"Pen 13","d":23,"r":15},{"p":"Pen 13","d":24,"r":5},{"p":"Pen 13","d":25,"r":10},{"p":"Pen 13","d":26,"r":15},{"p":"Pen 13","d":27,"r":10},{"p":"Pen 13","d":28,"r":5},{"p":"Pen 13","d":29,"r":10},{"p":"Pen 13","d":30,"r":15},{"p":"Pen 13","d":31,"r":10},{"p":"Pen 13","d":32,"r":5},{"p":"Pen 13","d":33,"r":10},{"p":"Pen 13","d":34,"r":10},{"p":"Pen 13","d":35,"r":15},{"p":"Pen 13","d":36,"r":10},{"p":"Pen 13","d":37,"r":5},{"p":"Pen 13","d":38,"r":10},{"p":"Pen 13","d":39,"r":10},{"p":"Pen 13","d":40,"r":15},{"p":"Pen 13","d":41,"r":10},{"p":"Pen 13","d":42,"r":10},{"p":"Pen 13","d":43,"r":5},{"p":"Pen 13","d":44,"r":10},{"p":"Pen 13","d":45,"r":15},{"p":"Pen 13","d":46,"r":10},{"p":"Pen 13","d":47,"r":10},{"p":"Pen 13","d":48,"r":15},{"p":"Pen 13","d":49,"r":30},{"p":"Pen 13","d":50,"r":15},{"p":"Pen 13","d":51,"r":35},{"p":"Pen 13","d":52,"r":10},{"p":"Pen 13","d":53,"r":15},{"p":"Pen 13","d":54,"r":10},{"p":"Pen 13","d":55,"r":15},{"p":"Pen 13","d":56,"r":10},{"p":"Pen 13","d":57,"r":25},{"p":"Pen 13","d":58,"r":10},{"p":"Pen 13","d":59,"r":15},{"p":"Pen 13","d":60,"r":25},{"p":"Pen 13","d":61,"r":15},{"p":"Pen 13","d":62,"r":20},{"p":"Pen 13","d":63,"r":15},{"p":"Pen 13","d":64,"r":20},{"p":"Pen 13","d":65,"r":15},{"p":"Pen 13","d":66,"r":20},{"p":"Pen 13","d":67,"r":15},{"p":"Pen 13","d":68,"r":10},{"p":"Pen 13","d":69,"r":20},{"p":"Pen 13","d":70,"r":15},{"p":"Pen 13","d":71,"r":20},{"p":"Pen 13","d":72,"r":15},{"p":"Pen 13","d":73,"r":20},{"p":"Pen 13","d":74,"r":30},{"p":"Pen 13","d":75,"r":15},{"p":"Pen 13","d":76,"r":20},{"p":"Pen 13","d":77,"r":15},{"p":"Pen 13","d":78,"r":20},{"p":"Pen 13","d":79,"r":15},{"p":"Pen 13","d":80,"r":20},{"p":"Pen 13","d":81,"r":25},{"p":"Pen 13","d":82,"r":15},{"p":"Pen 13","d":83,"r":20},{"p":"Pen 13","d":84,"r":15},{"p":"Pen 13","d":85,"r":15},{"p":"Pen 13","d":86,"r":15},{"p":"Pen 13","d":87,"r":15},{"p":"Pen 13","d":88,"r":15},{"p":"Pen 13","d":89,"r":15},
{"p":"Pen 14","d":0,"r":25},{"p":"Pen 14","d":1,"r":25},{"p":"Pen 14","d":2,"r":20},{"p":"Pen 14","d":3,"r":15},{"p":"Pen 14","d":4,"r":10},{"p":"Pen 14","d":5,"r":10},{"p":"Pen 14","d":6,"r":10},{"p":"Pen 14","d":7,"r":5},{"p":"Pen 14","d":8,"r":10},{"p":"Pen 14","d":9,"r":5},{"p":"Pen 14","d":10,"r":15},{"p":"Pen 14","d":11,"r":5},{"p":"Pen 14","d":12,"r":10},{"p":"Pen 14","d":13,"r":5},{"p":"Pen 14","d":14,"r":0},{"p":"Pen 14","d":15,"r":10},{"p":"Pen 14","d":16,"r":5},{"p":"Pen 14","d":17,"r":10},{"p":"Pen 14","d":18,"r":15},{"p":"Pen 14","d":19,"r":5},{"p":"Pen 14","d":20,"r":10},{"p":"Pen 14","d":21,"r":5},{"p":"Pen 14","d":22,"r":0},{"p":"Pen 14","d":23,"r":5},{"p":"Pen 14","d":24,"r":10},{"p":"Pen 14","d":25,"r":5},{"p":"Pen 14","d":26,"r":10},{"p":"Pen 14","d":27,"r":5},{"p":"Pen 14","d":28,"r":5},{"p":"Pen 14","d":29,"r":10},{"p":"Pen 14","d":30,"r":5},{"p":"Pen 14","d":31,"r":10},{"p":"Pen 14","d":32,"r":5},{"p":"Pen 14","d":33,"r":0},{"p":"Pen 14","d":34,"r":5},{"p":"Pen 14","d":35,"r":10},{"p":"Pen 14","d":36,"r":5},{"p":"Pen 14","d":37,"r":10},{"p":"Pen 14","d":38,"r":5},{"p":"Pen 14","d":39,"r":10},{"p":"Pen 14","d":40,"r":5},{"p":"Pen 14","d":41,"r":5},{"p":"Pen 14","d":42,"r":10},{"p":"Pen 14","d":43,"r":5},{"p":"Pen 14","d":44,"r":10},{"p":"Pen 14","d":45,"r":5},{"p":"Pen 14","d":46,"r":5},{"p":"Pen 14","d":47,"r":10},{"p":"Pen 14","d":48,"r":5},{"p":"Pen 14","d":49,"r":10},{"p":"Pen 14","d":50,"r":5},{"p":"Pen 14","d":51,"r":10},{"p":"Pen 14","d":52,"r":5},{"p":"Pen 14","d":53,"r":5},{"p":"Pen 14","d":54,"r":10},{"p":"Pen 14","d":55,"r":5},{"p":"Pen 14","d":56,"r":10},{"p":"Pen 14","d":57,"r":5},{"p":"Pen 14","d":58,"r":5},{"p":"Pen 14","d":59,"r":10},{"p":"Pen 14","d":60,"r":5},{"p":"Pen 14","d":61,"r":10},{"p":"Pen 14","d":62,"r":5},{"p":"Pen 14","d":63,"r":10},{"p":"Pen 14","d":64,"r":5},{"p":"Pen 14","d":65,"r":5},{"p":"Pen 14","d":66,"r":10},{"p":"Pen 14","d":67,"r":5},{"p":"Pen 14","d":68,"r":5},{"p":"Pen 14","d":69,"r":10},{"p":"Pen 14","d":70,"r":5},{"p":"Pen 14","d":71,"r":10},{"p":"Pen 14","d":72,"r":5},{"p":"Pen 14","d":73,"r":10},{"p":"Pen 14","d":74,"r":5},{"p":"Pen 14","d":75,"r":10},{"p":"Pen 14","d":76,"r":5},{"p":"Pen 14","d":77,"r":5},{"p":"Pen 14","d":78,"r":10},{"p":"Pen 14","d":79,"r":5},{"p":"Pen 14","d":80,"r":10},{"p":"Pen 14","d":81,"r":5},{"p":"Pen 14","d":82,"r":10},{"p":"Pen 14","d":83,"r":5},{"p":"Pen 14","d":84,"r":10},{"p":"Pen 14","d":85,"r":5},{"p":"Pen 14","d":86,"r":10},{"p":"Pen 14","d":87,"r":5},{"p":"Pen 14","d":88,"r":10},{"p":"Pen 14","d":89,"r":5},
{"p":"Pen 15","d":0,"r":0},{"p":"Pen 15","d":1,"r":5},{"p":"Pen 15","d":2,"r":15},{"p":"Pen 15","d":3,"r":10},{"p":"Pen 15","d":4,"r":5},{"p":"Pen 15","d":5,"r":10},{"p":"Pen 15","d":6,"r":15},{"p":"Pen 15","d":7,"r":5},{"p":"Pen 15","d":8,"r":10},{"p":"Pen 15","d":9,"r":15},{"p":"Pen 15","d":10,"r":10},{"p":"Pen 15","d":11,"r":5},{"p":"Pen 15","d":12,"r":10},{"p":"Pen 15","d":13,"r":15},{"p":"Pen 15","d":14,"r":10},{"p":"Pen 15","d":15,"r":5},{"p":"Pen 15","d":16,"r":10},{"p":"Pen 15","d":17,"r":5},{"p":"Pen 15","d":18,"r":15},{"p":"Pen 15","d":19,"r":10},{"p":"Pen 15","d":20,"r":5},{"p":"Pen 15","d":21,"r":10},{"p":"Pen 15","d":22,"r":5},{"p":"Pen 15","d":23,"r":10},{"p":"Pen 15","d":24,"r":5},{"p":"Pen 15","d":25,"r":0},{"p":"Pen 15","d":26,"r":5},{"p":"Pen 15","d":27,"r":10},{"p":"Pen 15","d":28,"r":5},{"p":"Pen 15","d":29,"r":10},{"p":"Pen 15","d":30,"r":5},{"p":"Pen 15","d":31,"r":10},{"p":"Pen 15","d":32,"r":15},{"p":"Pen 15","d":33,"r":5},{"p":"Pen 15","d":34,"r":10},{"p":"Pen 15","d":35,"r":5},{"p":"Pen 15","d":36,"r":10},{"p":"Pen 15","d":37,"r":5},{"p":"Pen 15","d":38,"r":5},{"p":"Pen 15","d":39,"r":10},{"p":"Pen 15","d":40,"r":5},{"p":"Pen 15","d":41,"r":10},{"p":"Pen 15","d":42,"r":15},{"p":"Pen 15","d":43,"r":5},{"p":"Pen 15","d":44,"r":10},{"p":"Pen 15","d":45,"r":5},{"p":"Pen 15","d":46,"r":0},{"p":"Pen 15","d":47,"r":5},{"p":"Pen 15","d":48,"r":10},{"p":"Pen 15","d":49,"r":5},{"p":"Pen 15","d":50,"r":10},{"p":"Pen 15","d":51,"r":15},{"p":"Pen 15","d":52,"r":5},{"p":"Pen 15","d":53,"r":10},{"p":"Pen 15","d":54,"r":5},{"p":"Pen 15","d":55,"r":10},{"p":"Pen 15","d":56,"r":5},{"p":"Pen 15","d":57,"r":10},{"p":"Pen 15","d":58,"r":5},{"p":"Pen 15","d":59,"r":0},{"p":"Pen 15","d":60,"r":5},{"p":"Pen 15","d":61,"r":10},{"p":"Pen 15","d":62,"r":5},{"p":"Pen 15","d":63,"r":10},{"p":"Pen 15","d":64,"r":5},{"p":"Pen 15","d":65,"r":15},{"p":"Pen 15","d":66,"r":10},{"p":"Pen 15","d":67,"r":5},{"p":"Pen 15","d":68,"r":10},{"p":"Pen 15","d":69,"r":5},{"p":"Pen 15","d":70,"r":10},{"p":"Pen 15","d":71,"r":5},{"p":"Pen 15","d":72,"r":5},{"p":"Pen 15","d":73,"r":10},{"p":"Pen 15","d":74,"r":5},{"p":"Pen 15","d":75,"r":10},{"p":"Pen 15","d":76,"r":5},{"p":"Pen 15","d":77,"r":10},{"p":"Pen 15","d":78,"r":5},{"p":"Pen 15","d":79,"r":5},{"p":"Pen 15","d":80,"r":0},{"p":"Pen 15","d":81,"r":5},{"p":"Pen 15","d":82,"r":10},{"p":"Pen 15","d":83,"r":5},{"p":"Pen 15","d":84,"r":10},{"p":"Pen 15","d":85,"r":15},{"p":"Pen 15","d":86,"r":5},{"p":"Pen 15","d":87,"r":10},{"p":"Pen 15","d":88,"r":5},{"p":"Pen 15","d":89,"r":5},
{"p":"Pen 16","d":0,"r":18},{"p":"Pen 16","d":1,"r":20},{"p":"Pen 16","d":2,"r":35},{"p":"Pen 16","d":3,"r":40},{"p":"Pen 16","d":4,"r":45},{"p":"Pen 16","d":5,"r":45},{"p":"Pen 16","d":6,"r":38},{"p":"Pen 16","d":7,"r":20},{"p":"Pen 16","d":8,"r":0},{"p":"Pen 16","d":9,"r":0},{"p":"Pen 16","d":10,"r":0},{"p":"Pen 16","d":11,"r":0},{"p":"Pen 16","d":12,"r":0},{"p":"Pen 16","d":13,"r":0},{"p":"Pen 16","d":14,"r":0},{"p":"Pen 16","d":15,"r":0},{"p":"Pen 16","d":16,"r":0},{"p":"Pen 16","d":17,"r":0},{"p":"Pen 16","d":18,"r":0},{"p":"Pen 16","d":19,"r":0},{"p":"Pen 16","d":20,"r":0},{"p":"Pen 16","d":21,"r":0},{"p":"Pen 16","d":22,"r":0},{"p":"Pen 16","d":23,"r":0},{"p":"Pen 16","d":24,"r":0},{"p":"Pen 16","d":25,"r":0},{"p":"Pen 16","d":26,"r":0},{"p":"Pen 16","d":27,"r":0},{"p":"Pen 16","d":28,"r":0},{"p":"Pen 16","d":29,"r":0},{"p":"Pen 16","d":30,"r":0},{"p":"Pen 16","d":31,"r":0},{"p":"Pen 16","d":32,"r":0},{"p":"Pen 16","d":33,"r":0},{"p":"Pen 16","d":34,"r":0},{"p":"Pen 16","d":35,"r":0},{"p":"Pen 16","d":36,"r":0},{"p":"Pen 16","d":37,"r":0},{"p":"Pen 16","d":38,"r":0},{"p":"Pen 16","d":39,"r":0},{"p":"Pen 16","d":40,"r":0},{"p":"Pen 16","d":41,"r":0},{"p":"Pen 16","d":42,"r":0},{"p":"Pen 16","d":43,"r":0},{"p":"Pen 16","d":44,"r":0},{"p":"Pen 16","d":45,"r":0},{"p":"Pen 16","d":46,"r":0},{"p":"Pen 16","d":47,"r":0},{"p":"Pen 16","d":48,"r":0},{"p":"Pen 16","d":49,"r":0},{"p":"Pen 16","d":50,"r":0},{"p":"Pen 16","d":51,"r":0},{"p":"Pen 16","d":52,"r":0},{"p":"Pen 16","d":53,"r":0},{"p":"Pen 16","d":54,"r":0},{"p":"Pen 16","d":55,"r":0},{"p":"Pen 16","d":56,"r":0},{"p":"Pen 16","d":57,"r":0},{"p":"Pen 16","d":58,"r":0},{"p":"Pen 16","d":59,"r":0},{"p":"Pen 16","d":60,"r":0},{"p":"Pen 16","d":61,"r":0},{"p":"Pen 16","d":62,"r":0},{"p":"Pen 16","d":63,"r":0},{"p":"Pen 16","d":64,"r":0},{"p":"Pen 16","d":65,"r":0},{"p":"Pen 16","d":66,"r":0},{"p":"Pen 16","d":67,"r":0},{"p":"Pen 16","d":68,"r":0},{"p":"Pen 16","d":69,"r":0},{"p":"Pen 16","d":70,"r":0},{"p":"Pen 16","d":71,"r":0},{"p":"Pen 16","d":72,"r":0},{"p":"Pen 16","d":73,"r":0},{"p":"Pen 16","d":74,"r":0},{"p":"Pen 16","d":75,"r":0},{"p":"Pen 16","d":76,"r":0},{"p":"Pen 16","d":77,"r":0},{"p":"Pen 16","d":78,"r":0},{"p":"Pen 16","d":79,"r":0},{"p":"Pen 16","d":80,"r":0},{"p":"Pen 16","d":81,"r":0},{"p":"Pen 16","d":82,"r":0},{"p":"Pen 16","d":83,"r":0},{"p":"Pen 16","d":84,"r":0},{"p":"Pen 16","d":85,"r":25},{"p":"Pen 16","d":86,"r":5},{"p":"Pen 16","d":87,"r":0},{"p":"Pen 16","d":88,"r":0},{"p":"Pen 16","d":89,"r":0},
{"p":"Pen 17","d":0,"r":0},{"p":"Pen 17","d":1,"r":25},{"p":"Pen 17","d":2,"r":50},{"p":"Pen 17","d":3,"r":45},{"p":"Pen 17","d":4,"r":28},{"p":"Pen 17","d":5,"r":25},{"p":"Pen 17","d":6,"r":25},{"p":"Pen 17","d":7,"r":25},{"p":"Pen 17","d":8,"r":11},{"p":"Pen 17","d":9,"r":40},{"p":"Pen 17","d":10,"r":107},{"p":"Pen 17","d":11,"r":60},{"p":"Pen 17","d":12,"r":40},{"p":"Pen 17","d":13,"r":28},{"p":"Pen 17","d":14,"r":20},{"p":"Pen 17","d":15,"r":18},{"p":"Pen 17","d":16,"r":46},{"p":"Pen 17","d":17,"r":18},{"p":"Pen 17","d":18,"r":25},{"p":"Pen 17","d":19,"r":25},{"p":"Pen 17","d":20,"r":5},{"p":"Pen 17","d":21,"r":0},{"p":"Pen 17","d":22,"r":0},{"p":"Pen 17","d":23,"r":0},{"p":"Pen 17","d":24,"r":0},{"p":"Pen 17","d":25,"r":0},{"p":"Pen 17","d":26,"r":0},{"p":"Pen 17","d":27,"r":0},{"p":"Pen 17","d":28,"r":0},{"p":"Pen 17","d":29,"r":0},{"p":"Pen 17","d":30,"r":0},{"p":"Pen 17","d":31,"r":0},{"p":"Pen 17","d":32,"r":0},{"p":"Pen 17","d":33,"r":0},{"p":"Pen 17","d":34,"r":0},{"p":"Pen 17","d":35,"r":0},{"p":"Pen 17","d":36,"r":0},{"p":"Pen 17","d":37,"r":0},{"p":"Pen 17","d":38,"r":0},{"p":"Pen 17","d":39,"r":0},{"p":"Pen 17","d":40,"r":0},{"p":"Pen 17","d":41,"r":18},{"p":"Pen 17","d":42,"r":0},{"p":"Pen 17","d":43,"r":0},{"p":"Pen 17","d":44,"r":0},{"p":"Pen 17","d":45,"r":0},{"p":"Pen 17","d":46,"r":0},{"p":"Pen 17","d":47,"r":0},{"p":"Pen 17","d":48,"r":0},{"p":"Pen 17","d":49,"r":0},{"p":"Pen 17","d":50,"r":0},{"p":"Pen 17","d":51,"r":0},{"p":"Pen 17","d":52,"r":0},{"p":"Pen 17","d":53,"r":0},{"p":"Pen 17","d":54,"r":0},{"p":"Pen 17","d":55,"r":0},{"p":"Pen 17","d":56,"r":11},{"p":"Pen 17","d":57,"r":0},{"p":"Pen 17","d":58,"r":25},{"p":"Pen 17","d":59,"r":10},{"p":"Pen 17","d":60,"r":0},{"p":"Pen 17","d":61,"r":18},{"p":"Pen 17","d":62,"r":0},{"p":"Pen 17","d":63,"r":0},{"p":"Pen 17","d":64,"r":18},{"p":"Pen 17","d":65,"r":0},{"p":"Pen 17","d":66,"r":0},{"p":"Pen 17","d":67,"r":0},{"p":"Pen 17","d":68,"r":0},{"p":"Pen 17","d":69,"r":0},{"p":"Pen 17","d":70,"r":0},{"p":"Pen 17","d":71,"r":0},{"p":"Pen 17","d":72,"r":0},{"p":"Pen 17","d":73,"r":0},{"p":"Pen 17","d":74,"r":0},{"p":"Pen 17","d":75,"r":0},{"p":"Pen 17","d":76,"r":0},{"p":"Pen 17","d":77,"r":18},{"p":"Pen 17","d":78,"r":0},{"p":"Pen 17","d":79,"r":0},{"p":"Pen 17","d":80,"r":0},{"p":"Pen 17","d":81,"r":0},{"p":"Pen 17","d":82,"r":0},{"p":"Pen 17","d":83,"r":0},{"p":"Pen 17","d":84,"r":0},{"p":"Pen 17","d":85,"r":0},{"p":"Pen 17","d":86,"r":0},{"p":"Pen 17","d":87,"r":0},{"p":"Pen 17","d":88,"r":18},{"p":"Pen 17","d":89,"r":0},
{"p":"Pen 18","d":0,"r":0},{"p":"Pen 18","d":1,"r":0},{"p":"Pen 18","d":2,"r":0},{"p":"Pen 18","d":3,"r":0},{"p":"Pen 18","d":4,"r":0},{"p":"Pen 18","d":5,"r":0},{"p":"Pen 18","d":6,"r":0},{"p":"Pen 18","d":7,"r":0},{"p":"Pen 18","d":8,"r":0},{"p":"Pen 18","d":9,"r":0},{"p":"Pen 18","d":10,"r":0},{"p":"Pen 18","d":11,"r":0},{"p":"Pen 18","d":12,"r":0},{"p":"Pen 18","d":13,"r":0},{"p":"Pen 18","d":14,"r":0},{"p":"Pen 18","d":15,"r":0},{"p":"Pen 18","d":16,"r":0},{"p":"Pen 18","d":17,"r":0},{"p":"Pen 18","d":18,"r":0},{"p":"Pen 18","d":19,"r":0},{"p":"Pen 18","d":20,"r":0},{"p":"Pen 18","d":21,"r":0},{"p":"Pen 18","d":22,"r":0},{"p":"Pen 18","d":23,"r":0},{"p":"Pen 18","d":24,"r":0},{"p":"Pen 18","d":25,"r":5},{"p":"Pen 18","d":26,"r":10},{"p":"Pen 18","d":27,"r":0},{"p":"Pen 18","d":28,"r":10},{"p":"Pen 18","d":29,"r":0},{"p":"Pen 18","d":30,"r":0},{"p":"Pen 18","d":31,"r":0},{"p":"Pen 18","d":32,"r":0},{"p":"Pen 18","d":33,"r":10},{"p":"Pen 18","d":34,"r":0},{"p":"Pen 18","d":35,"r":0},{"p":"Pen 18","d":36,"r":0},{"p":"Pen 18","d":37,"r":0},{"p":"Pen 18","d":38,"r":10},{"p":"Pen 18","d":39,"r":0},{"p":"Pen 18","d":40,"r":0},{"p":"Pen 18","d":41,"r":0},{"p":"Pen 18","d":42,"r":10},{"p":"Pen 18","d":43,"r":0},{"p":"Pen 18","d":44,"r":0},{"p":"Pen 18","d":45,"r":0},{"p":"Pen 18","d":46,"r":0},{"p":"Pen 18","d":47,"r":0},{"p":"Pen 18","d":48,"r":0},{"p":"Pen 18","d":49,"r":10},{"p":"Pen 18","d":50,"r":15},{"p":"Pen 18","d":51,"r":5},{"p":"Pen 18","d":52,"r":0},{"p":"Pen 18","d":53,"r":0},{"p":"Pen 18","d":54,"r":0},{"p":"Pen 18","d":55,"r":0},{"p":"Pen 18","d":56,"r":0},{"p":"Pen 18","d":57,"r":0},{"p":"Pen 18","d":58,"r":0},{"p":"Pen 18","d":59,"r":0},{"p":"Pen 18","d":60,"r":0},{"p":"Pen 18","d":61,"r":0},{"p":"Pen 18","d":62,"r":0},{"p":"Pen 18","d":63,"r":0},{"p":"Pen 18","d":64,"r":0},{"p":"Pen 18","d":65,"r":0},{"p":"Pen 18","d":66,"r":0},{"p":"Pen 18","d":67,"r":0},{"p":"Pen 18","d":68,"r":0},{"p":"Pen 18","d":69,"r":0},{"p":"Pen 18","d":70,"r":0},{"p":"Pen 18","d":71,"r":0},{"p":"Pen 18","d":72,"r":0},{"p":"Pen 18","d":73,"r":0},{"p":"Pen 18","d":74,"r":0},{"p":"Pen 18","d":75,"r":0},{"p":"Pen 18","d":76,"r":0},{"p":"Pen 18","d":77,"r":0},{"p":"Pen 18","d":78,"r":0},{"p":"Pen 18","d":79,"r":0},{"p":"Pen 18","d":80,"r":0},{"p":"Pen 18","d":81,"r":0},{"p":"Pen 18","d":82,"r":0},{"p":"Pen 18","d":83,"r":0},{"p":"Pen 18","d":84,"r":0},{"p":"Pen 18","d":85,"r":0},{"p":"Pen 18","d":86,"r":0},{"p":"Pen 18","d":87,"r":0},{"p":"Pen 18","d":88,"r":0},{"p":"Pen 18","d":89,"r":0},
{"p":"Pen 19","d":0,"r":18},{"p":"Pen 19","d":1,"r":18},{"p":"Pen 19","d":2,"r":18},{"p":"Pen 19","d":3,"r":18},{"p":"Pen 19","d":4,"r":18},{"p":"Pen 19","d":5,"r":18},{"p":"Pen 19","d":6,"r":18},{"p":"Pen 19","d":7,"r":18},{"p":"Pen 19","d":8,"r":18},{"p":"Pen 19","d":9,"r":18},{"p":"Pen 19","d":10,"r":0},{"p":"Pen 19","d":11,"r":0},{"p":"Pen 19","d":12,"r":18},{"p":"Pen 19","d":13,"r":18},{"p":"Pen 19","d":14,"r":18},{"p":"Pen 19","d":15,"r":18},{"p":"Pen 19","d":16,"r":18},{"p":"Pen 19","d":17,"r":50},{"p":"Pen 19","d":18,"r":82},{"p":"Pen 19","d":19,"r":135},{"p":"Pen 19","d":20,"r":634},{"p":"Pen 19","d":21,"r":1121},{"p":"Pen 19","d":22,"r":651},{"p":"Pen 19","d":23,"r":438},{"p":"Pen 19","d":24,"r":250},{"p":"Pen 19","d":25,"r":331},{"p":"Pen 19","d":26,"r":206},{"p":"Pen 19","d":27,"r":64},{"p":"Pen 19","d":28,"r":18},{"p":"Pen 19","d":29,"r":18},{"p":"Pen 19","d":30,"r":117},{"p":"Pen 19","d":31,"r":181},{"p":"Pen 19","d":32,"r":117},{"p":"Pen 19","d":33,"r":28},{"p":"Pen 19","d":34,"r":0},{"p":"Pen 19","d":35,"r":0},{"p":"Pen 19","d":36,"r":0},{"p":"Pen 19","d":37,"r":0},{"p":"Pen 19","d":38,"r":21},{"p":"Pen 19","d":39,"r":0},{"p":"Pen 19","d":40,"r":0},{"p":"Pen 19","d":41,"r":0},{"p":"Pen 19","d":42,"r":0},{"p":"Pen 19","d":43,"r":0},{"p":"Pen 19","d":44,"r":0},{"p":"Pen 19","d":45,"r":0},{"p":"Pen 19","d":46,"r":0},{"p":"Pen 19","d":47,"r":0},{"p":"Pen 19","d":48,"r":0},{"p":"Pen 19","d":49,"r":0},{"p":"Pen 19","d":50,"r":0},{"p":"Pen 19","d":51,"r":0},{"p":"Pen 19","d":52,"r":0},{"p":"Pen 19","d":53,"r":0},{"p":"Pen 19","d":54,"r":0},{"p":"Pen 19","d":55,"r":0},{"p":"Pen 19","d":56,"r":0},{"p":"Pen 19","d":57,"r":0},{"p":"Pen 19","d":58,"r":0},{"p":"Pen 19","d":59,"r":0},{"p":"Pen 19","d":60,"r":0},{"p":"Pen 19","d":61,"r":0},{"p":"Pen 19","d":62,"r":0},{"p":"Pen 19","d":63,"r":189},{"p":"Pen 19","d":64,"r":28},{"p":"Pen 19","d":65,"r":30},{"p":"Pen 19","d":66,"r":53},{"p":"Pen 19","d":67,"r":206},{"p":"Pen 19","d":68,"r":349},{"p":"Pen 19","d":69,"r":242},{"p":"Pen 19","d":70,"r":117},{"p":"Pen 19","d":71,"r":36},{"p":"Pen 19","d":72,"r":117},{"p":"Pen 19","d":73,"r":18},{"p":"Pen 19","d":74,"r":64},{"p":"Pen 19","d":75,"r":153},{"p":"Pen 19","d":76,"r":242},{"p":"Pen 19","d":77,"r":64},{"p":"Pen 19","d":78,"r":18},{"p":"Pen 19","d":79,"r":18},{"p":"Pen 19","d":80,"r":189},{"p":"Pen 19","d":81,"r":82},{"p":"Pen 19","d":82,"r":28},{"p":"Pen 19","d":83,"r":28},{"p":"Pen 19","d":84,"r":28},{"p":"Pen 19","d":85,"r":40},{"p":"Pen 19","d":86,"r":153},{"p":"Pen 19","d":87,"r":260},{"p":"Pen 19","d":88,"r":171},{"p":"Pen 19","d":89,"r":64},
{"p":"Pen 20","d":0,"r":70},{"p":"Pen 20","d":1,"r":70},{"p":"Pen 20","d":2,"r":45},{"p":"Pen 20","d":3,"r":20},{"p":"Pen 20","d":4,"r":15},{"p":"Pen 20","d":5,"r":10},{"p":"Pen 20","d":6,"r":5},{"p":"Pen 20","d":7,"r":10},{"p":"Pen 20","d":8,"r":0},{"p":"Pen 20","d":9,"r":5},{"p":"Pen 20","d":10,"r":15},{"p":"Pen 20","d":11,"r":5},{"p":"Pen 20","d":12,"r":0},{"p":"Pen 20","d":13,"r":5},{"p":"Pen 20","d":14,"r":10},{"p":"Pen 20","d":15,"r":20},{"p":"Pen 20","d":16,"r":10},{"p":"Pen 20","d":17,"r":5},{"p":"Pen 20","d":18,"r":0},{"p":"Pen 20","d":19,"r":5},{"p":"Pen 20","d":20,"r":5},{"p":"Pen 20","d":21,"r":10},{"p":"Pen 20","d":22,"r":5},{"p":"Pen 20","d":23,"r":15},{"p":"Pen 20","d":24,"r":10},{"p":"Pen 20","d":25,"r":15},{"p":"Pen 20","d":26,"r":5},{"p":"Pen 20","d":27,"r":0},{"p":"Pen 20","d":28,"r":0},{"p":"Pen 20","d":29,"r":5},{"p":"Pen 20","d":30,"r":0},{"p":"Pen 20","d":31,"r":0},{"p":"Pen 20","d":32,"r":5},{"p":"Pen 20","d":33,"r":0},{"p":"Pen 20","d":34,"r":0},{"p":"Pen 20","d":35,"r":0},{"p":"Pen 20","d":36,"r":5},{"p":"Pen 20","d":37,"r":0},{"p":"Pen 20","d":38,"r":0},{"p":"Pen 20","d":39,"r":0},{"p":"Pen 20","d":40,"r":5},{"p":"Pen 20","d":41,"r":0},{"p":"Pen 20","d":42,"r":0},{"p":"Pen 20","d":43,"r":0},{"p":"Pen 20","d":44,"r":0},{"p":"Pen 20","d":45,"r":5},{"p":"Pen 20","d":46,"r":0},{"p":"Pen 20","d":47,"r":0},{"p":"Pen 20","d":48,"r":0},{"p":"Pen 20","d":49,"r":0},{"p":"Pen 20","d":50,"r":5},{"p":"Pen 20","d":51,"r":0},{"p":"Pen 20","d":52,"r":0},{"p":"Pen 20","d":53,"r":0},{"p":"Pen 20","d":54,"r":0},{"p":"Pen 20","d":55,"r":0},{"p":"Pen 20","d":56,"r":5},{"p":"Pen 20","d":57,"r":0},{"p":"Pen 20","d":58,"r":0},{"p":"Pen 20","d":59,"r":0},{"p":"Pen 20","d":60,"r":0},{"p":"Pen 20","d":61,"r":0},{"p":"Pen 20","d":62,"r":5},{"p":"Pen 20","d":63,"r":0},{"p":"Pen 20","d":64,"r":0},{"p":"Pen 20","d":65,"r":0},{"p":"Pen 20","d":66,"r":0},{"p":"Pen 20","d":67,"r":0},{"p":"Pen 20","d":68,"r":5},{"p":"Pen 20","d":69,"r":0},{"p":"Pen 20","d":70,"r":10},{"p":"Pen 20","d":71,"r":0},{"p":"Pen 20","d":72,"r":15},{"p":"Pen 20","d":73,"r":0},{"p":"Pen 20","d":74,"r":5},{"p":"Pen 20","d":75,"r":0},{"p":"Pen 20","d":76,"r":15},{"p":"Pen 20","d":77,"r":0},{"p":"Pen 20","d":78,"r":10},{"p":"Pen 20","d":79,"r":0},{"p":"Pen 20","d":80,"r":20},{"p":"Pen 20","d":81,"r":5},{"p":"Pen 20","d":82,"r":10},{"p":"Pen 20","d":83,"r":0},{"p":"Pen 20","d":84,"r":15},{"p":"Pen 20","d":85,"r":0},{"p":"Pen 20","d":86,"r":5},{"p":"Pen 20","d":87,"r":0},{"p":"Pen 20","d":88,"r":0},{"p":"Pen 20","d":89,"r":0}
]},
"facet": {"field": "p", "type": "nominal", "sort": ["Pen 1","Pen 2","Pen 3","Pen 4","Pen 5","Pen 6","Pen 7","Pen 8","Pen 9","Pen 10","Pen 11","Pen 12","Pen 13","Pen 14","Pen 15","Pen 16","Pen 17","Pen 18","Pen 19","Pen 20"],
  "header": {"labels": false, "labelExpr": "''", "labelPadding": 0, "labelFontSize": 1, "title": "Days post sea transfer", "titleOrient": "bottom", "titleFont": "Liberation Sans", "titleFontSize": 35, "titleFontWeight": "normal", "titleColor": "black", "titlePadding": 12}},
"columns": 5,
"spacing": {"row": 23, "column": 21},
"spec": {
  "width": 224,
  "height": 192,
  "encoding": {
    "x": {"field": "d", "type": "quantitative", "scale": {"domain": [-5.07, 104.4], "nice": false, "zero": false}, "axis": {"title": null, "values": [0, 50, 100], "grid": false, "format": "d"}},
    "y": {"field": "r", "type": "quantitative", "scale": {"domain": [-105, 1950], "nice": false, "zero": false}, "axis": {"title": null, "values": [0, 500, 1000, 1500], "grid": true, "format": "d", "labelOverlap": false}}
  },
  "layer": [
    {"mark": {"type": "line", "color": "black", "strokeWidth": 1, "clip": true}},
    {"mark": {"type": "rule", "color": "black", "strokeWidth": 3},
     "encoding": {"x": null, "y": {"datum": 1622, "type": "quantitative"}}},
    {"mark": {"type": "text", "font": "Liberation Sans", "fontSize": 18, "align": "center", "baseline": "middle", "color": "black"},
     "encoding": {"x": {"datum": 49.7, "type": "quantitative"}, "y": {"datum": 1786, "type": "quantitative"}, "text": {"field": "p"},
       "opacity": {"condition": {"test": "datum.d == 0", "value": 1}, "value": 0}}}
  ]
},
"config": {
  "view": {"stroke": "#1a1a1a", "strokeWidth": 1.5},
  "header": {"labels": false, "labelPadding": 0},
  "axis": {"domain": false, "ticks": true, "tickSize": 6, "tickColor": "black", "tickWidth": 1, "labelFont": "Liberation Sans", "labelFontSize": 19, "labelColor": "black", "gridColor": "#e3e3e3", "gridWidth": 1},
  "axisX": {"labelPadding": 8},
  "axisY": {"labelAngle": 270, "labelAlign": "center", "labelBaseline": "bottom", "labelPadding": 7}
}
}
